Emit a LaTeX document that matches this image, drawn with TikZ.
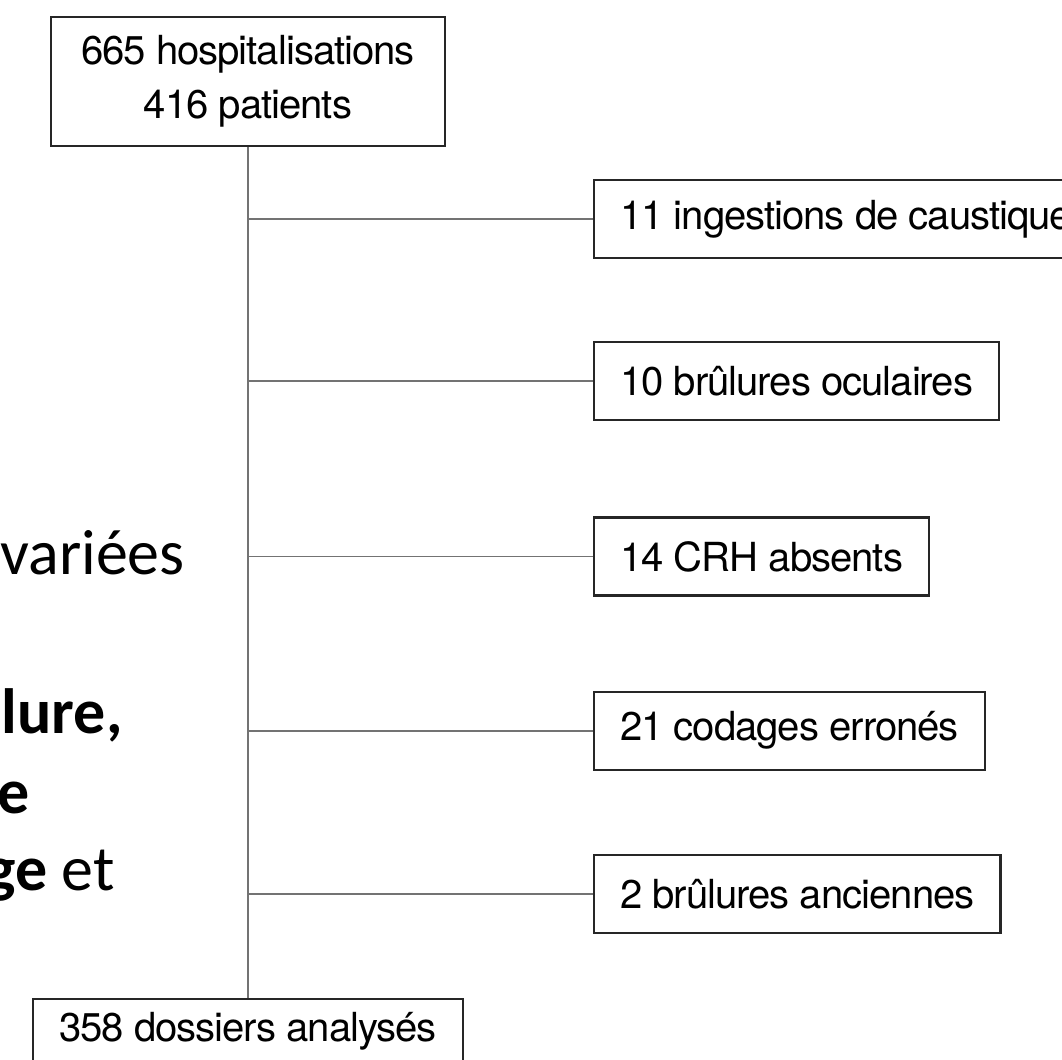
\documentclass[tikz,border=0pt]{standalone}
\usepackage{fontspec}
\newfontfamily\helv[LetterSpace=-2.5]{TeX Gyre Heros}
\newfontfamily\calib{Carlito}
\usetikzlibrary{positioning}

\begin{document}
\begin{tikzpicture}[
			x=0.02cm, y=-0.02cm,
			box/.style={
				draw=black!85,
				line width=1.3pt,
				align=center,
				minimum height=1.56cm,
				inner xsep=0.52cm,
				font=\helv\fontsize{22.8}{30.5}\selectfont
			},
			excl/.style={box, anchor=west},
			link/.style={draw=black!55, line width=0.9pt},
			side/.style={anchor=base east, inner sep=0pt, font=\calib\fontsize{36.4}{44}\selectfont}
			]
			
			\useasboundingbox (0,0) rectangle (1062,1060);
			
			% Left text, cut by the frame
			\node[side] (var) at (185,575) {variées};
			\node[side] (lur) at (123,733) {\textbf{lure,}};
			\node[side] (ee) at (30,813) {\textbf{e}};
			\node[side] (get) at (115,890) {\textbf{ge} et};
			
			% Top
			\node[box, minimum height=2.58cm, inner xsep=0.6cm] (hosp) at (248,81.5) {665 hospitalisations\\416 patients};
			
			% Exclusions - right column
			\node[excl] (ing) at (593,219) {11 ingestions de caustique};
			\node[excl, below=1.64cm of ing.south west, anchor=north west] (ocu) {10 brûlures oculaires};
			\node[excl, below=1.9cm of ocu.south west, anchor=north west] (crh) {14 CRH absents};
			\node[excl, below=1.88cm of crh.south west, anchor=north west] (cod) {21 codages erronés};
			\node[excl, below=1.66cm of cod.south west, anchor=north west] (anc) {2 brûlures anciennes};
			
			% Bottom
			\node[box, anchor=north, minimum height=1.3cm] (dos) at (248,998) {358 dossiers analysés};
			
			% Lines
			\draw[link] (hosp) -- (dos);
			\foreach \n in {ing,ocu,crh,cod,anc}
				\draw[link] (hosp.south |- \n.west) -- (\n.west);
			
		\end{tikzpicture}
\end{document}
